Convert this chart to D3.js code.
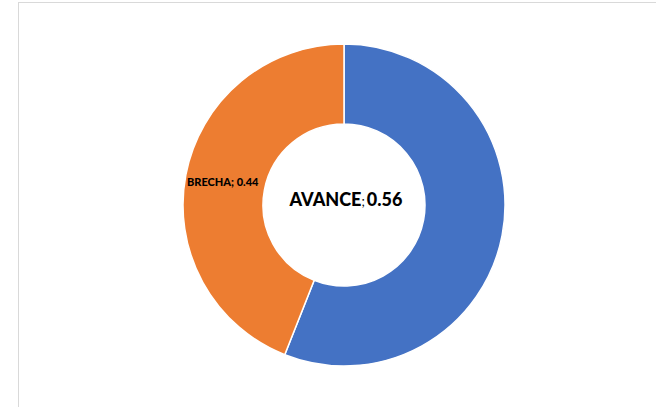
<!DOCTYPE html>
<html><head><meta charset="utf-8">
<script src="https://cdn.jsdelivr.net/npm/d3@7"></script>
<style>body{margin:0;background:#fff}svg{display:block}</style>
</head><body>
<svg id="c" width="656" height="407"></svg>
<script>
const categories = ["AVANCE", "BRECHA"];
const values = [0.56, 0.44];
const colors = ["#4472C4", "#ED7D31"];

const svg = d3.select("#c");
svg.append("rect").attr("x", 18.5).attr("y", 2.5).attr("width", 700).attr("height", 500)
  .attr("fill", "#fff").attr("stroke", "#d9d9d9").attr("stroke-width", 1);

const cx = 344, cy = 205, outerR = 161, innerR = 81;
const g = svg.append("g").attr("transform", `translate(${cx},${cy})`);
const pie = d3.pie().sort(null).value(d => d.v);
const data = categories.map((c, i) => ({c, v: values[i], col: colors[i]}));
const arcs = pie(data);
const arc = d3.arc().innerRadius(innerR).outerRadius(outerR);
g.selectAll("path").data(arcs).join("path")
  .attr("d", arc).attr("fill", d => d.data.col)
  .attr("stroke", "#fff").attr("stroke-width", 1.5);

const font = "Lato, 'Open Sans', sans-serif";
// center label for AVANCE
const t = g.append("text").attr("x", 2).attr("y", 1).attr("text-anchor", "middle")
  .attr("font-family", font).attr("font-weight", 900).attr("fill", "#000");
t.append("tspan").attr("font-size", 18).text(data[0].c);
t.append("tspan").attr("font-size", 13).attr("font-weight", "normal").text(";");
t.append("tspan").attr("font-size", 18).attr("dx", 2).text(data[0].v.toFixed(2));

// BRECHA label
const b = arcs[1];
g.append("text").attr("x", 187 - cx).attr("y", 186 - cy)
  .attr("font-family", font).attr("font-weight", 900).attr("font-size", 11).attr("fill", "#000")
  .text(b.data.c + "; " + b.data.v.toFixed(2));
</script>
</body></html>
